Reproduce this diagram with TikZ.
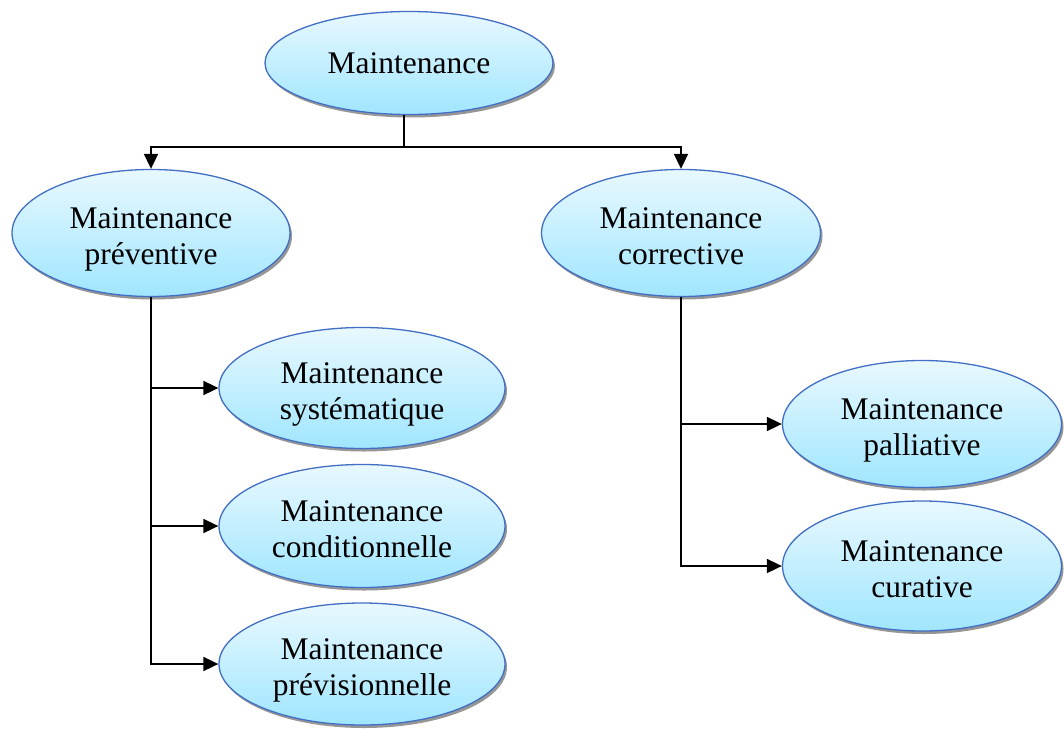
\documentclass[tikz,border=0pt]{standalone}
\usepackage{fontspec}
\setmainfont{Liberation Serif}
\usetikzlibrary{shapes.geometric,shadows,arrows.meta}
\definecolor{ellborder}{RGB}{66,110,196}
\definecolor{elltop}{RGB}{232,248,255}
\definecolor{ellbottom}{RGB}{160,230,255}
\definecolor{ellshadow}{RGB}{150,150,150}
% two centred lines, with struts so the text sits a little below the middle
\newcommand{\twoline}[2]{\rule{0pt}{35pt}#1\\#2\rule[-8pt]{0pt}{8pt}}
\begin{document}
\begin{tikzpicture}[x=1pt,y=-1pt,
  ell/.style={ellipse, draw=ellborder, line width=1.3pt,
    top color=elltop, bottom color=ellbottom,
    drop shadow={shadow xshift=2pt, shadow yshift=-3pt, fill=ellshadow, opacity=1},
    align=center, inner sep=0pt,
    font=\fontsize{31.5}{36}\selectfont},
  ell2/.style={ell, inner ysep=-20pt},
  link/.style={line width=1.8pt, black},
  arr/.style={link, -{Triangle[length=15pt,width=14pt]}}]
\useasboundingbox (0,0) rectangle (1064,733);

% levels of the maintenance tree
\node[ell, minimum width=288pt, minimum height=103pt] (m) at (409,63) {Maintenance};
\node[ell2, minimum width=278pt, minimum height=127pt] (p) at (151,233) {\twoline{Maintenance}{préventive}};
\node[ell2, minimum width=279pt, minimum height=127pt] (c) at (681,233) {\twoline{Maintenance}{corrective}};
\node[ell2, minimum width=286pt, minimum height=121pt] (s) at (362,388) {\twoline{Maintenance}{systématique}};
\node[ell2, minimum width=286pt, minimum height=123pt] (k) at (362,526) {\twoline{Maintenance}{conditionnelle}};
\node[ell2, minimum width=286pt, minimum height=122pt] (v) at (362,664) {\twoline{Maintenance}{prévisionnelle}};
\node[ell2, minimum width=279pt, minimum height=127pt] (pa) at (922,424) {\twoline{Maintenance}{palliative}};
\node[ell2, minimum width=279pt, minimum height=130pt] (cu) at (922,566) {\twoline{Maintenance}{curative}};

% top split
\draw[link] ([xshift=-5pt]m.south) -- ++(0,32) coordinate (j);
\draw[arr] (j) -| (p.north);
\draw[arr] (j) -| (c.north);

% preventive branches
\draw[arr] (p.south) |- (s.west);
\draw[arr] (p.south) |- (k.west);
\draw[arr] (p.south) |- (v.west);

% corrective branches
\draw[arr] (c.south) |- (pa.west);
\draw[arr] (c.south) |- (cu.west);
\end{tikzpicture}
\end{document}
